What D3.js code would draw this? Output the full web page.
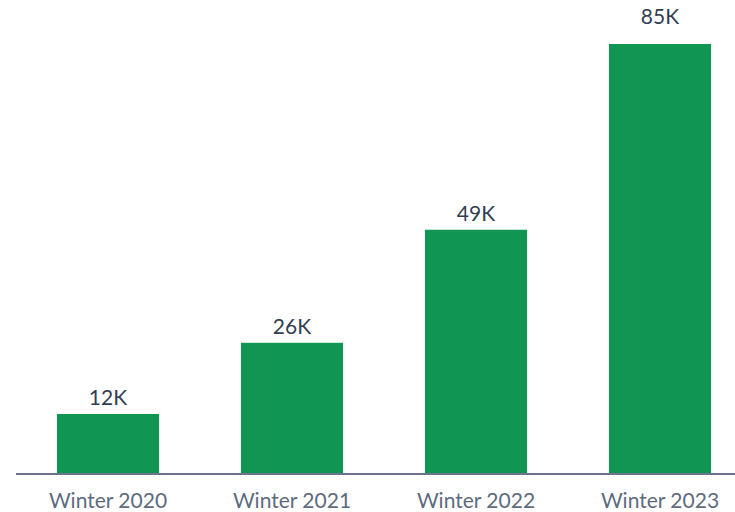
<!DOCTYPE html>
<html>
<head>
<meta charset="utf-8">
<script src="https://cdn.jsdelivr.net/npm/d3@7"></script>
<style>
  html, body { margin: 0; padding: 0; background: #fff; overflow: hidden; }
  svg { display: block; font-family: Lato, "Open Sans", sans-serif; }
</style>
</head>
<body>
<div id="plot"></div>
<script>
const SEASONS = ['Winter 2020', 'Winter 2021', 'Winter 2022', 'Winter 2023'];
const USERS = [11700, 25800, 48200, 85000];
const USER_LABELS = ['12K', '26K', '49K', '85K'];

const WIDTH = 735;
const HEIGHT = 512;
const margin = { top: 44, right: 0, bottom: 39, left: 16 };

var svg = d3.select('div#plot')
  .append('svg')
  .attr('width', WIDTH)
  .attr('height', HEIGHT);

var data = SEASONS.map(function(s, i) {
  return { season: s, value: USERS[i], label: USER_LABELS[i] };
});

var baseY = HEIGHT - margin.bottom;
var maxVal = d3.max(USERS);

// band spans past the right edge so the bars land where they do in the original
var x = d3.scaleBand()
  .domain(SEASONS)
  .range([margin.left, margin.left + 736])
  .paddingInner(0.445)
  .paddingOuter(0.2225);

var y = d3.scaleLinear()
  .domain([0, maxVal])
  .range([baseY, margin.top]);

svg.selectAll('rect.bar')
  .data(data)
  .enter()
  .append('rect')
  .attr('class', 'bar')
  .attr('x', function(d) { return x(d.season); })
  .attr('y', function(d) { return y(d.value); })
  .attr('width', x.bandwidth())
  .attr('height', function(d) { return baseY - y(d.value); })
  .attr('fill', '#109652');

// tallest label sits a bit higher above its bar
svg.selectAll('text.value')
  .data(data)
  .enter()
  .append('text')
  .attr('class', 'value')
  .attr('x', function(d) { return x(d.season) + x.bandwidth() / 2; })
  .attr('y', function(d) { return y(d.value) - (d.value === maxVal ? 20 : 9); })
  .attr('text-anchor', 'middle')
  .attr('font-size', 21)
  .attr('fill', '#333e52')
  .text(function(d) { return d.label; });

/* Axis */
var axis = svg.append('g')
  .attr('transform', 'translate(0,' + (baseY + 1) + ')')
  .call(d3.axisBottom(x).tickSize(0).tickPadding(19));

axis.select('.domain')
  .attr('d', 'M' + margin.left + ',0H' + WIDTH)
  .attr('stroke', '#6b7488')
  .attr('stroke-width', 2);

axis.selectAll('text')
  .attr('font-family', 'Lato, "Open Sans", sans-serif')
  .attr('font-size', 21)
  .attr('fill', '#5d6b80');
</script>
</body>
</html>
